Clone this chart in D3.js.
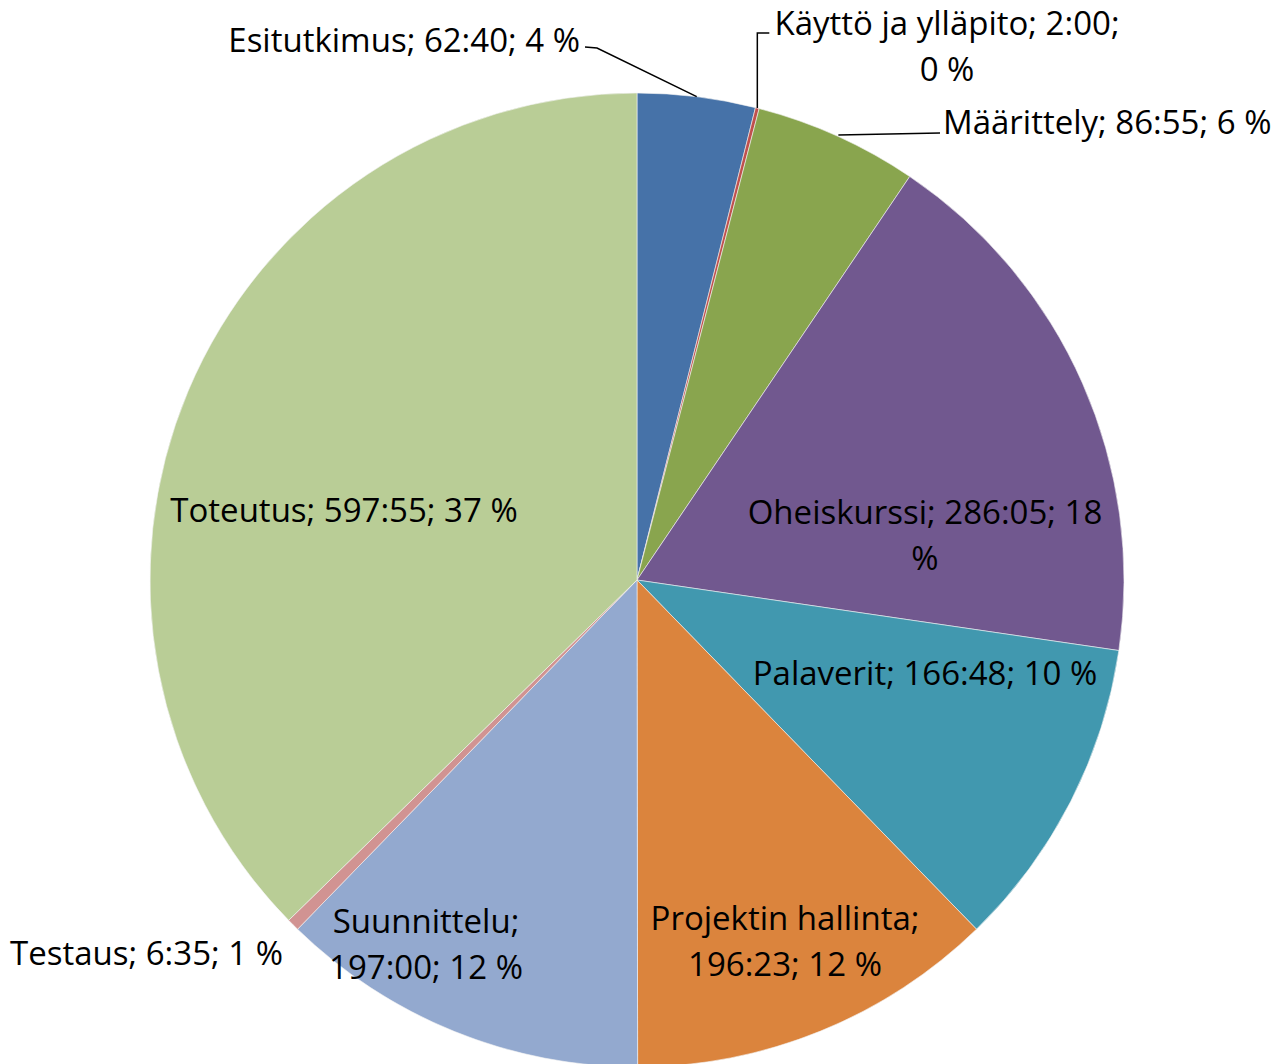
<!DOCTYPE html>
<html>
<head>
<meta charset="utf-8">
<script src="https://cdn.jsdelivr.net/npm/d3@7"></script>
<style>
  body { margin: 0; background: #fff; }
  svg { display: block; }
</style>
</head>
<body>
<div id="chart"></div>
<script>
// Ajankäyttö tehtävittäin (h:mm)
const categories = ["Esitutkimus", "Käyttö ja ylläpito", "Määrittely", "Oheiskurssi", "Palaverit",
    "Projektin hallinta", "Suunnittelu", "Testaus", "Toteutus"];
const times = ["62:40", "2:00", "86:55", "286:05", "166:48", "196:23", "197:00", "6:35", "597:55"];
const percents = ["4 %", "0 %", "6 %", "18 %", "10 %", "12 %", "12 %", "1 %", "37 %"];
const colors = ["#4672a8", "#c0504d", "#89a54e", "#71588f", "#4198af", "#db843d", "#93a9cf", "#d19392", "#b9cd96"];

// label lines (text broken like the original)
const labelLines = [
    ["Esitutkimus; 62:40; 4 %"],
    ["Käyttö ja ylläpito; 2:00;", "0 %"],
    ["Määrittely; 86:55; 6 %"],
    ["Oheiskurssi; 286:05; 18", "%"],
    ["Palaverit; 166:48; 10 %"],
    ["Projektin hallinta;", "196:23; 12 %"],
    ["Suunnittelu;", "197:00; 12 %"],
    ["Testaus; 6:35; 1 %"],
    ["Toteutus; 597:55; 37 %"]
];
// label anchor relative to pie centre: [dx, dy of first baseline, anchor, leader]
const labelLayout = [
    [-57, -528, "end", "elbowLeft"],
    [310, -545, "middle", "elbowUp"],
    [306, -446, "start", "straight"],
    [288, -56, "middle", null],
    [288, 105, "middle", null],
    [148, 350, "middle", null],
    [-211, 353, "middle", null],
    [-354, 385, "end", null],
    [-293, -58, "middle", null]
];

const width = 1282, height = 1064;
const cx = 637, cy = 580, radius = 487, lineGap = 46;

const toHours = s => { const [h, m] = s.split(":").map(Number); return h + m / 60; };

const data = categories.map((c, i) => ({ name: c, value: toHours(times[i]), color: colors[i], lines: labelLines[i], layout: labelLayout[i] }));

const svg = d3.select("#chart").append("svg")
    .attr("width", width)
    .attr("height", height);

const g = svg.append("g").attr("transform", `translate(${cx},${cy})`);

const pie = d3.pie().sort(null).value(d => d.value);
const arc = d3.arc().innerRadius(0).outerRadius(radius);
const arcs = pie(data);

g.selectAll("path.slice")
    .data(arcs)
    .enter().append("path")
    .attr("class", "slice")
    .attr("d", arc)
    .attr("fill", d => d.data.color)
    .attr("stroke", "#f4f4f4")
    .attr("stroke-width", 0.6)
    .attr("stroke-linejoin", "round");

// leader lines for outside labels
const edgePoint = d => {
    const a = (d.startAngle + d.endAngle) / 2;
    return [radius * Math.sin(a), -radius * Math.cos(a)];
};

arcs.forEach(d => {
    const [dx, dy, anchor, leader] = d.data.layout;
    if (!leader) return;
    const [ex, ey] = edgePoint(d);
    let pts;
    if (leader === "elbowLeft") {
        pts = [[dx + 5, dy - 5], [dx + 17, dy - 4], [ex, ey]];
    } else if (leader === "elbowUp") {
        pts = [[ex, ey], [ex, dy - 2], [ex + 12, dy - 2]];
    } else {
        pts = [[ex + 1, ey - 1], [dx - 3, ey - 3]];
    }
    g.append("path")
        .attr("d", d3.line()(pts))
        .attr("fill", "none")
        .attr("stroke", "#000")
        .attr("stroke-width", 1.5);
});

// labels
const labels = g.selectAll("text.lbl")
    .data(arcs)
    .enter().append("text")
    .attr("class", "lbl")
    .attr("text-anchor", d => d.data.layout[2])
    .style("font-family", "'Open Sans', 'Noto Sans', sans-serif")
    .style("font-size", "33px")
    .style("fill", "#000");

labels.each(function(d) {
    const [dx, dy] = d.data.layout;
    d3.select(this).selectAll("tspan")
        .data(d.data.lines)
        .enter().append("tspan")
        .attr("x", dx)
        .attr("y", (t, i) => dy + i * lineGap)
        .text(t => t);
});
</script>
</body>
</html>
